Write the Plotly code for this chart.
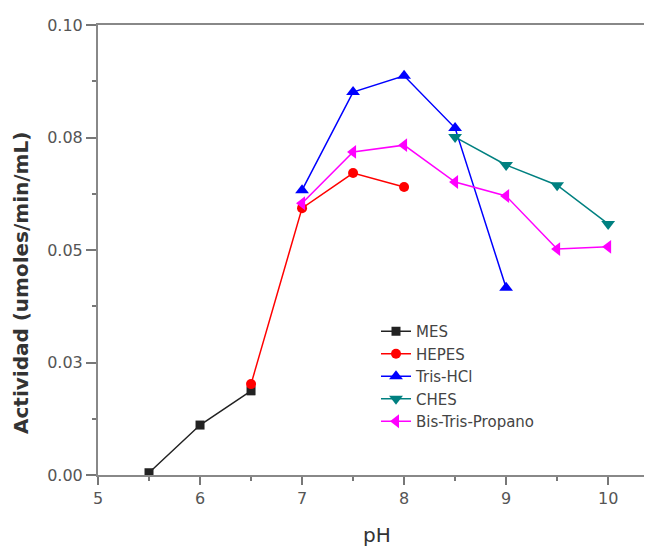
import plotly.graph_objects as go

ph_mes = [5.5, 6.0, 6.5]
act_mes = [0.0005, 0.0111, 0.0187]

ph_hepes = [6.5, 7.0, 7.5, 8.0]
act_hepes = [0.0202, 0.0593, 0.0671, 0.0640]

ph_tris = [7.0, 7.5, 8.0, 8.5, 9.0]
act_tris = [0.0633, 0.0851, 0.0887, 0.0771, 0.0416]

ph_ches = [8.5, 9.0, 9.5, 10.0]
act_ches = [0.0751, 0.0689, 0.0644, 0.0558]

ph_btp = [7.0, 7.5, 8.0, 8.5, 9.0, 9.5, 10.0]
act_btp = [0.0604, 0.0718, 0.0733, 0.0651, 0.0620, 0.0502, 0.0507]

y_tickvals = [0.0, 0.025, 0.05, 0.075, 0.1]
y_ticktext = ["0.00", "0.03", "0.05", "0.08", "0.10"]
x_tickvals = [5, 6, 7, 8, 9, 10]

series = [
    ("MES", ph_mes, act_mes, "#222222", "square", 9),
    ("HEPES", ph_hepes, act_hepes, "#ff0000", "circle", 10),
    ("Tris-HCl", ph_tris, act_tris, "#0000ff", "triangle-up", 12),
    ("CHES", ph_ches, act_ches, "#008080", "triangle-down", 12),
    ("Bis-Tris-Propano", ph_btp, act_btp, "#ff00ff", "triangle-left", 12),
]

fig = go.Figure()
for i, (name, xs, ys, col, sym, sz) in enumerate(series):
    fig.add_trace(go.Scatter(
        x=xs, y=ys, name=name, mode="lines+markers",
        line=dict(color=col, width=1.5),
        marker=dict(symbol=sym, size=sz, color=col),
        legendgroup=f"g{i}",
    ))

FONT = "DejaVu Sans, Liberation Sans, Arial, sans-serif"
axis_font = dict(family=FONT, size=16, color="#555555")

# page body has an 8px margin; figure is sized to fill the rest of the window
W, H = 644, 538
L, T, B = 90, 17, 71
PW = W - L
PH = H - T - B


def px_x(px):
    return (px - 8 - L) / PW


def px_y(py):
    return (H - B - (py - 8)) / PH


fig.update_layout(
    width=W, height=H,
    margin=dict(l=L, r=0, t=T, b=B),
    paper_bgcolor="white", plot_bgcolor="white",
    showlegend=True,
    legend=dict(
        x=px_x(376), y=px_y(315), xanchor="left", yanchor="top",
        font=dict(family=FONT, size=15, color="#444444"),
        bgcolor="rgba(0,0,0,0)", traceorder="grouped", tracegroupgap=0,
        itemwidth=30,
    ),
    xaxis=dict(
        range=[5, 10.43], tickvals=x_tickvals, ticks="outside", ticklen=8,
        tickwidth=1.5, tickcolor="#777777", showline=True, linecolor="#888888",
        linewidth=2, mirror=True, showgrid=False, zeroline=False,
        tickfont=axis_font,
        minor=dict(dtick=0.5, tick0=5, ticks="outside", ticklen=4, tickcolor="#777777", tickwidth=1.5),
    ),
    yaxis=dict(
        range=[0, 0.1], tickvals=y_tickvals, ticktext=y_ticktext, ticks="outside",
        ticklen=10, tickwidth=1.5, tickcolor="#777777", showline=True,
        linecolor="#888888", linewidth=2, mirror=False, showgrid=False,
        zeroline=False, tickfont=axis_font,
        minor=dict(tickvals=[0.0125, 0.0375, 0.0625, 0.0875], ticks="outside", ticklen=4, tickcolor="#777777", tickwidth=1.5),
    ),
    annotations=[
        dict(text="<b>Actividad (umoles/min/mL)</b>", xref="paper", yref="paper",
             x=px_x(21), y=px_y(283), textangle=-90, showarrow=False,
             font=dict(family=FONT, size=20, color="#333333"),
             xanchor="center", yanchor="middle"),
        dict(text="pH", xref="paper", yref="paper",
             x=px_x(377), y=px_y(535), showarrow=False,
             font=dict(family=FONT, size=20, color="#333333"),
             xanchor="center", yanchor="middle"),
    ],
)

fig.write_html("out.html")
